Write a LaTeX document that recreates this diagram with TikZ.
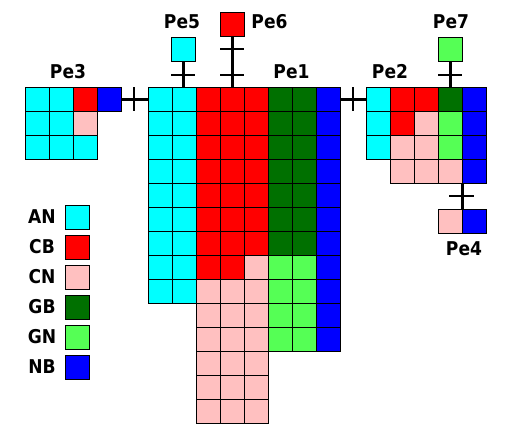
\documentclass[tikz,border=0pt]{standalone}
\usepackage{fontspec}
\setmainfont{DejaVu Sans}[FakeStretch=0.9]
\definecolor{cAN}{RGB}{0,255,255}
\definecolor{cCB}{RGB}{255,0,0}
\definecolor{cCN}{RGB}{255,192,192}
\definecolor{cGB}{RGB}{0,112,0}
\definecolor{cGN}{RGB}{85,255,85}
\definecolor{cNB}{RGB}{0,0,255}
\tikzset{
  cellbox/.style={draw=black, line width=0.8pt},
  lbl/.style={font=\fontsize{19}{19}\selectfont\bfseries, inner sep=0pt, anchor=center},
  link/.style={line width=3pt},
  tick/.style={line width=1.2pt},
  pbox/.style={draw=black, line width=0.8pt, minimum width=24pt, minimum height=24pt, inner sep=0pt, outer sep=0pt},
}
\newcommand{\mycell}[3]{\path[cellbox, fill=#3] (#1,#2) rectangle ++(24,24);}
\begin{document}
\begin{tikzpicture}[x=1pt,y=-1pt]
\useasboundingbox (0,0) rectangle (505,432);
% ---- Pe1 main grid
\foreach \r in {0,...,8}{\mycell{148}{87+24*\r}{cAN}\mycell{172}{87+24*\r}{cAN}}
\foreach \r in {0,...,7}{\mycell{196}{87+24*\r}{cCB}\mycell{220}{87+24*\r}{cCB}}
\foreach \r in {8,...,13}{\mycell{196}{87+24*\r}{cCN}\mycell{220}{87+24*\r}{cCN}}
\foreach \r in {0,...,6}{\mycell{244}{87+24*\r}{cCB}}
\foreach \r in {7,...,13}{\mycell{244}{87+24*\r}{cCN}}
\foreach \r in {0,...,6}{\mycell{268}{87+24*\r}{cGB}\mycell{292}{87+24*\r}{cGB}}
\foreach \r in {7,...,10}{\mycell{268}{87+24*\r}{cGN}\mycell{292}{87+24*\r}{cGN}}
\foreach \r in {0,...,10}{\mycell{316}{87+24*\r}{cNB}}
% ---- Pe3
\mycell{25}{87}{cAN}\mycell{49}{87}{cAN}\mycell{73}{87}{cCB}\mycell{97}{87}{cNB}
\mycell{25}{111}{cAN}\mycell{49}{111}{cAN}\mycell{73}{111}{cCN}
\mycell{25}{135}{cAN}\mycell{49}{135}{cAN}\mycell{73}{135}{cAN}
% ---- Pe2
\mycell{366}{87}{cAN}\mycell{390}{87}{cCB}\mycell{414}{87}{cCB}\mycell{438}{87}{cGB}\mycell{462}{87}{cNB}
\mycell{366}{111}{cAN}\mycell{390}{111}{cCB}\mycell{414}{111}{cCN}\mycell{438}{111}{cGN}\mycell{462}{111}{cNB}
\mycell{366}{135}{cAN}\mycell{390}{135}{cCN}\mycell{414}{135}{cCN}\mycell{438}{135}{cGN}\mycell{462}{135}{cNB}
\mycell{390}{159}{cCN}\mycell{414}{159}{cCN}\mycell{438}{159}{cCN}\mycell{462}{159}{cNB}
% ---- Pe4
\mycell{438}{209}{cCN}\mycell{462}{209}{cNB}
% ---- small boxes
\node[pbox, fill=cAN] (pe5) at (183,49) {};
\node[pbox, fill=cCB] (pe6) at (232,24) {};
\node[pbox, fill=cGN] (pe7) at (450,49) {};
% ---- connection points
\coordinate (pe3r) at (121,99);
\coordinate (pe1l) at (148,99);
\coordinate (pe1r) at (340,99);
\coordinate (pe2l) at (366,99);
\coordinate (pe5b) at (183,87);
\coordinate (pe6b) at (232,87);
\coordinate (pe7b) at (450,87);
\coordinate (pe2b) at (462,183);
\coordinate (pe4t) at (462,209);
% ---- connectors
\draw[link] (pe3r) -- (pe1l);
\draw[tick] (134,87) -- (134,111);
\draw[link] (pe1r) -- (pe2l);
\draw[tick] (353,87) -- (353,111);
\draw[link] (pe5.south) -- (pe5b);
\draw[tick] (171,75) -- (195,75);
\draw[link] (pe6.south) -- (pe6b);
\draw[tick] (220,49) -- (244,49);
\draw[tick] (220,75) -- (244,75);
\draw[link] (pe7.south) -- (pe7b);
\draw[tick] (438,75) -- (462,75);
\draw[link] (pe2b) -- (pe4t);
\draw[tick] (449,196) -- (474,196);
% ---- labels
\node[lbl] (l3) at (68,72) {Pe3};
\node[lbl] (l5) at (182,22) {Pe5};
\node[lbl] (l6) at (269.5,22) {Pe6};
\node[lbl] (l1) at (291.5,72) {Pe1};
\node[lbl] (l2) at (390,72) {Pe2};
\node[lbl] (l7) at (451,22) {Pe7};
\node[lbl] (l4) at (464,249) {Pe4};
% ---- legend
\foreach \t/\c [count=\i from 0] in {AN/cAN,CB/cCB,CN/cCN,GB/cGB,GN/cGN,NB/cNB}{
  \node[pbox, fill=\c] (box\t) at (77,217+30*\i) {};
  \node[lbl] (txt\t) at (42,217+30*\i) {\t};
}
\end{tikzpicture}
\end{document}
